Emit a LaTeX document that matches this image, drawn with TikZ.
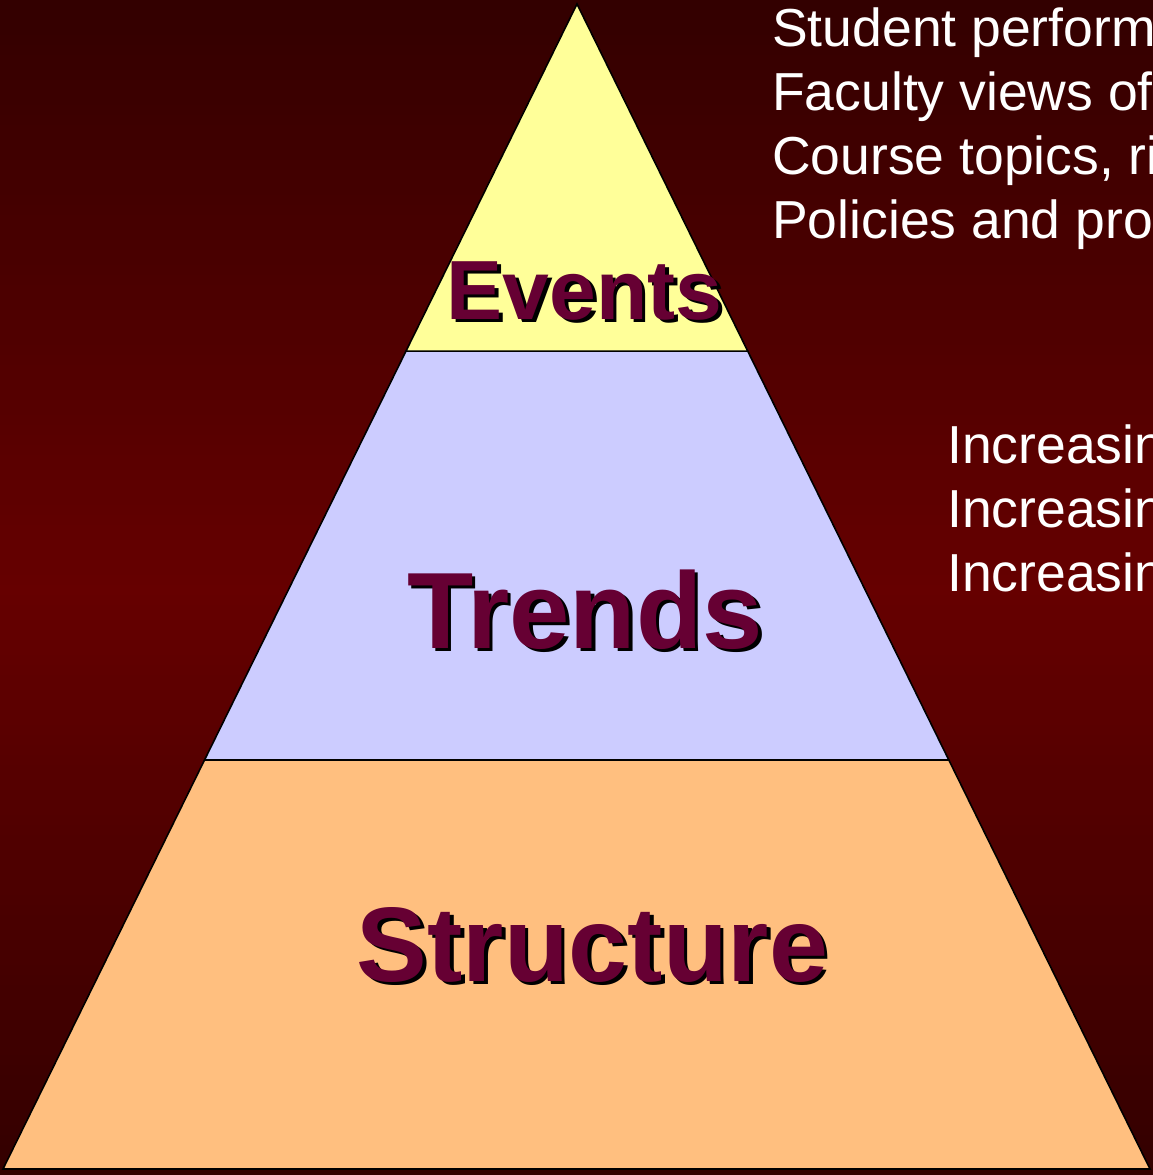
\documentclass[tikz,border=0pt]{standalone}
\usepackage{fontspec}
\setmainfont{Liberation Sans}
\usetikzlibrary{calc}
\definecolor{bgdark}{HTML}{330000}
\definecolor{bgmid}{HTML}{660000}
\definecolor{eventsfill}{HTML}{FFFF99}
\definecolor{trendsfill}{HTML}{CCCCFF}
\definecolor{structfill}{HTML}{FFBF7F}
\definecolor{labelcol}{HTML}{660033}
\tikzset{
  layer/.style={draw=black, line width=1.6pt, line join=miter},
  biglabel/.style={inner sep=0pt, anchor=base, font=\bfseries\fontsize{#1}{#1}\selectfont, text=labelcol},
  bigshadow/.style={inner sep=0pt, anchor=base, font=\bfseries\fontsize{#1}{#1}\selectfont, text=black},
  sidetext/.style={inner sep=0pt, anchor=base west, font=\fontsize{53.5}{64}\selectfont, text=white}
}
\begin{document}
\begin{tikzpicture}[x=1pt,y=-1pt]
\useasboundingbox (0,0) rectangle (1153,1175);
\clip (0,0) rectangle (1153,1175);
\foreach \i in {0,...,234} {
  \pgfmathsetmacro{\yy}{\i*5}
  \pgfmathsetmacro{\pp}{min(100,abs(\yy+2.5-590)/585*100)}
  \fill[bgdark!\pp!bgmid] (0,\yy) rectangle (1153,\yy+5.6);
}

\coordinate (apex) at (577,4);
\coordinate (bl) at (3,1169);
\coordinate (br) at (1150,1169);
\coordinate (el) at ($(apex)!0.2979!(bl)$);
\coordinate (er) at ($(apex)!0.2979!(br)$);
\coordinate (tl) at ($(apex)!0.6489!(bl)$);
\coordinate (tr) at ($(apex)!0.6489!(br)$);

\filldraw[layer, fill=structfill] (tl) -- (tr) -- (br) -- (bl) -- cycle;
\filldraw[layer, fill=trendsfill] (el) -- (er) -- (tr) -- (tl) -- cycle;
\filldraw[layer, fill=eventsfill] (apex) -- (er) -- (el) -- cycle;

\node[bigshadow=84] (eventssh) at (588,322.5) {Events};
\node[biglabel=84] (events) at (584.5,319) {Events};
\node[bigshadow=108.5] (trendssh) at (588.5,651.5) {Trends};
\node[biglabel=108.5] (trends) at (585,648) {Trends};
\node[bigshadow=106] (structsh) at (596,984.5) {Structure};
\node[biglabel=106] (struct) at (592.5,981) {Structure};

\node[sidetext] (s1) at (772,46) {Student perform};
\node[sidetext] (s2) at (772,110) {Faculty views of};
\node[sidetext] (s3) at (772,174) {Course topics, ri};
\node[sidetext] (s4) at (772,238) {Policies and pro};

\node[sidetext] (i1) at (947,463) {Increasin};
\node[sidetext] (i2) at (947,527) {Increasin};
\node[sidetext] (i3) at (947,591) {Increasin};
\end{tikzpicture}
\end{document}
